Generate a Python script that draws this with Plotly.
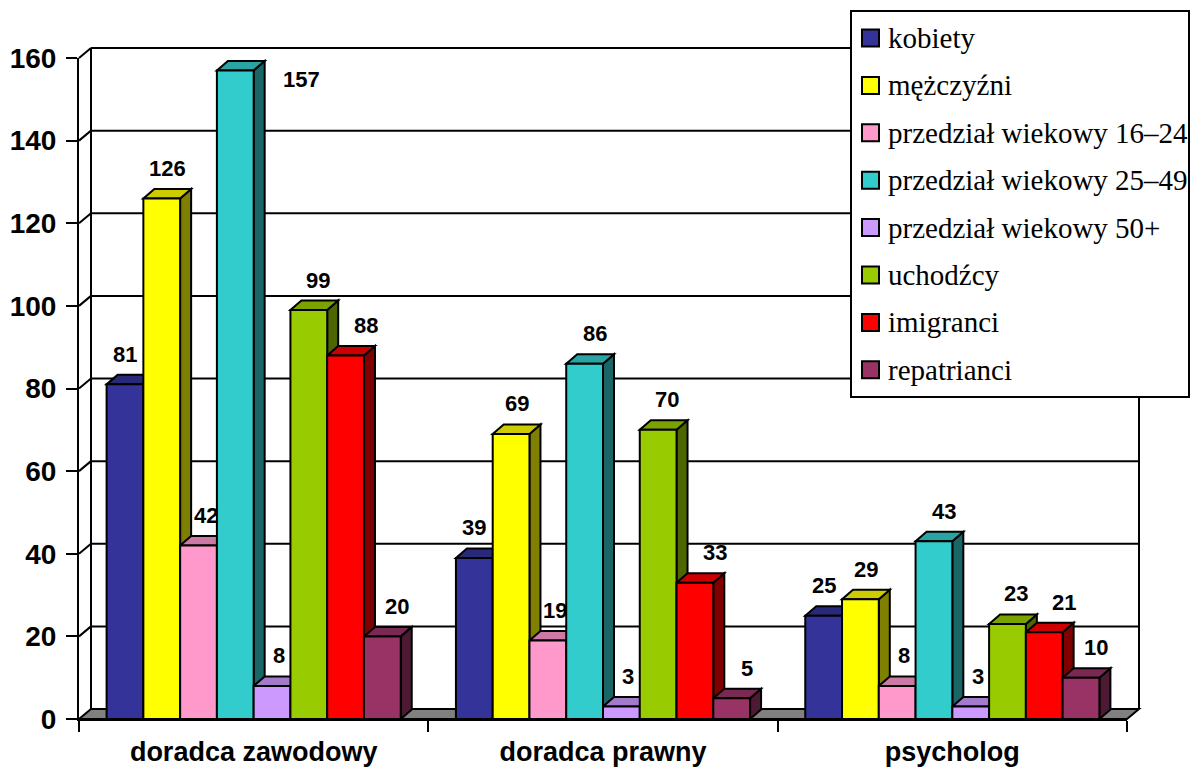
import plotly.graph_objects as go

# ---- data -------------------------------------------------------------
categories = ["doradca zawodowy", "doradca prawny", "psycholog"]

series_names = [
    "kobiety",
    "mężczyźni",
    "przedział wiekowy 16–24",
    "przedział wiekowy 25–49",
    "przedział wiekowy 50+",
    "uchodźcy",
    "imigranci",
    "repatrianci",
]

kobiety = [81, 39, 25]
mezczyzni = [126, 69, 29]
wiek_16_24 = [42, 19, 8]
wiek_25_49 = [157, 86, 43]
wiek_50_plus = [8, 3, 3]
uchodzcy = [99, 70, 23]
imigranci = [88, 33, 21]
repatrianci = [20, 5, 10]

y_ticks = [0, 20, 40, 60, 80, 100, 120, 140, 160]

series_values = [kobiety, mezczyzni, wiek_16_24, wiek_25_49,
                 wiek_50_plus, uchodzcy, imigranci, repatrianci]

# ---- styling ----------------------------------------------------------
front_colors = ["#333399", "#FFFF00", "#FF99CC", "#33CCCC",
                "#CC99FF", "#99CC00", "#FF0000", "#993366"]
top_colors = ["#29297A", "#CCCC00", "#CC7AA3", "#29A3A3",
              "#A37ACC", "#7AA300", "#CC0000", "#7A2952"]
side_colors = ["#1A1A4D", "#808000", "#804D66", "#1A6666",
               "#664D80", "#4D6600", "#800000", "#4D1A33"]
# horizontal nudge (px) of the value labels for each series
label_nudge_x = [0, 6, 7, 10, 7, 9, 20, 15]

W, H = 1190, 767
M_L, M_R, M_T, M_B = 79, 63, 58, 48
PLOT_W = W - M_L - M_R
PLOT_H = H - M_T - M_B
Y_MAX = 160
N_CAT = len(categories)
PX_PER_CAT = PLOT_W / N_CAT
PX_PER_UNIT = PLOT_H / Y_MAX

WALL_DX, WALL_DY = 12, 10      # depth of the floor / walls, px
BAR_DX, BAR_DY = 11, 9.5       # depth of each column, px
GAP = 0.158
N_SER = len(series_names)
BAR_W = (1 - GAP) / N_SER

SANS = "Liberation Sans, Arial, sans-serif"
SERIF = "Liberation Serif, Times New Roman, serif"


def px_x(px):
    """absolute page x (px) -> paper x"""
    return (px - M_L) / PLOT_W


def px_y(py):
    """absolute page y (px) -> paper y"""
    return (M_T + PLOT_H - py) / PLOT_H


fig = go.Figure()
shapes = []
annotations = []

# ---- walls & floor (paper coordinates) -------------------------------
wdx = WALL_DX / PLOT_W
wdy = WALL_DY / PLOT_H
line_k = dict(color="black", width=2)

shapes.append(dict(type="path", xref="paper", yref="paper", layer="below",
                   path=f"M 0,0 L 1,0 L {1 + wdx},{wdy} L {wdx},{wdy} Z",
                   fillcolor="#808080", line=line_k))
for v in y_ticks:
    yp = v / Y_MAX
    if v > 0:
        shapes.append(dict(type="line", xref="paper", yref="paper", layer="below",
                           x0=wdx, x1=1 + wdx, y0=yp + wdy, y1=yp + wdy, line=line_k))
        shapes.append(dict(type="line", xref="paper", yref="paper", layer="below",
                           x0=0, x1=wdx, y0=yp, y1=yp + wdy, line=line_k))
shapes.append(dict(type="line", xref="paper", yref="paper", layer="below",
                   x0=wdx, x1=wdx, y0=wdy, y1=1 + wdy, line=line_k))
shapes.append(dict(type="line", xref="paper", yref="paper", layer="below",
                   x0=1 + wdx, x1=1 + wdx, y0=wdy, y1=1 + wdy, line=line_k))

# ---- columns: front faces as bars, side/top faces as shapes -----------
ddx = BAR_DX / PX_PER_CAT
ddy = BAR_DY / PX_PER_UNIT
x_idx = list(range(N_CAT))

for si, (name, vals) in enumerate(zip(series_names, series_values)):
    offset = -(1 - GAP) / 2 + si * BAR_W
    fig.add_trace(go.Bar(
        name=name, x=x_idx, y=vals, offset=offset, width=BAR_W,
        marker=dict(color=front_colors[si], line=dict(color="black", width=2)),
        showlegend=False,
    ))

for ci in range(N_CAT):
    for si, vals in enumerate(series_values):
        v = vals[ci]
        x0 = ci - (1 - GAP) / 2 + si * BAR_W
        x1 = x0 + BAR_W
        lw = dict(color="black", width=2)
        shapes.append(dict(type="path", xref="x", yref="y", layer="below",
                           path=(f"M {x1},0 L {x1},{v} L {x1 + ddx},{v + ddy} "
                                 f"L {x1 + ddx},{ddy} Z"),
                           fillcolor=side_colors[si], line=lw))
        shapes.append(dict(type="path", xref="x", yref="y", layer="below",
                           path=(f"M {x0},{v} L {x1},{v} L {x1 + ddx},{v + ddy} "
                                 f"L {x0 + ddx},{v + ddy} Z"),
                           fillcolor=top_colors[si], line=lw))

        # value label above the column; beside it when it would leave the plot
        xc = x0 + BAR_W / 2
        if v * PX_PER_UNIT + 30 + 12 > PLOT_H:
            xs, ys = 66, -9
        else:
            xs, ys = label_nudge_x[si], 30
        annotations.append(dict(x=xc, y=v, xref="x", yref="y", text=str(v),
                                showarrow=False, xshift=xs, yshift=ys,
                                xanchor="center", yanchor="middle",
                                font=dict(family=SANS, size=22, color="black",
                                          weight="bold")))

# ---- legend box -------------------------------------------------------
LEG_L, LEG_T, LEG_R, LEG_B = 851, 11, 1189, 397
shapes.append(dict(type="rect", xref="paper", yref="paper", layer="above",
                   x0=px_x(LEG_L), x1=px_x(LEG_R), y0=px_y(LEG_B), y1=px_y(LEG_T),
                   fillcolor="white", line=dict(color="black", width=2)))
ROW0, ROW_STEP, SQ = 38, 47.4, 17
for si, name in enumerate(series_names):
    cy = ROW0 + si * ROW_STEP
    shapes.append(dict(type="rect", xref="paper", yref="paper", layer="above",
                       x0=px_x(862), x1=px_x(862 + SQ),
                       y0=px_y(cy + SQ / 2), y1=px_y(cy - SQ / 2),
                       fillcolor=front_colors[si], line=dict(color="black", width=2)))
    annotations.append(dict(x=px_x(886), y=px_y(cy), xref="paper", yref="paper",
                            text=name, showarrow=False, xanchor="left",
                            yanchor="middle",
                            font=dict(family=SERIF, size=29, color="black")))

fig.update_layout(
    width=W, height=H,
    margin=dict(l=M_L, r=M_R, t=M_T, b=M_B, pad=0, autoexpand=False),
    paper_bgcolor="white",
    plot_bgcolor="rgba(0,0,0,0)",
    barmode="overlay",
    showlegend=False,
    shapes=shapes,
    annotations=annotations,
    xaxis=dict(
        range=[-0.5, N_CAT - 0.5], tickvals=x_idx, ticktext=categories,
        ticks="", showgrid=False, zeroline=False, automargin=False,
        showline=True, linecolor="black", linewidth=2,
        tickfont=dict(family=SANS, size=27, color="black", weight="bold"),
        ticklabelstandoff=8,
        minor=dict(tickvals=[i - 0.5 for i in range(N_CAT + 1)], ticks="outside",
                   ticklen=11, tickwidth=2, tickcolor="black", showgrid=False),
    ),
    yaxis=dict(
        range=[0, Y_MAX], tickvals=y_ticks, showgrid=False, zeroline=False,
        automargin=False,
        showline=True, linecolor="black", linewidth=2,
        ticks="outside", ticklen=11, tickwidth=2, tickcolor="black",
        tickfont=dict(family=SANS, size=28, color="black", weight="bold"),
        ticklabelstandoff=4,
    ),
)

fig.write_html("out.html")
